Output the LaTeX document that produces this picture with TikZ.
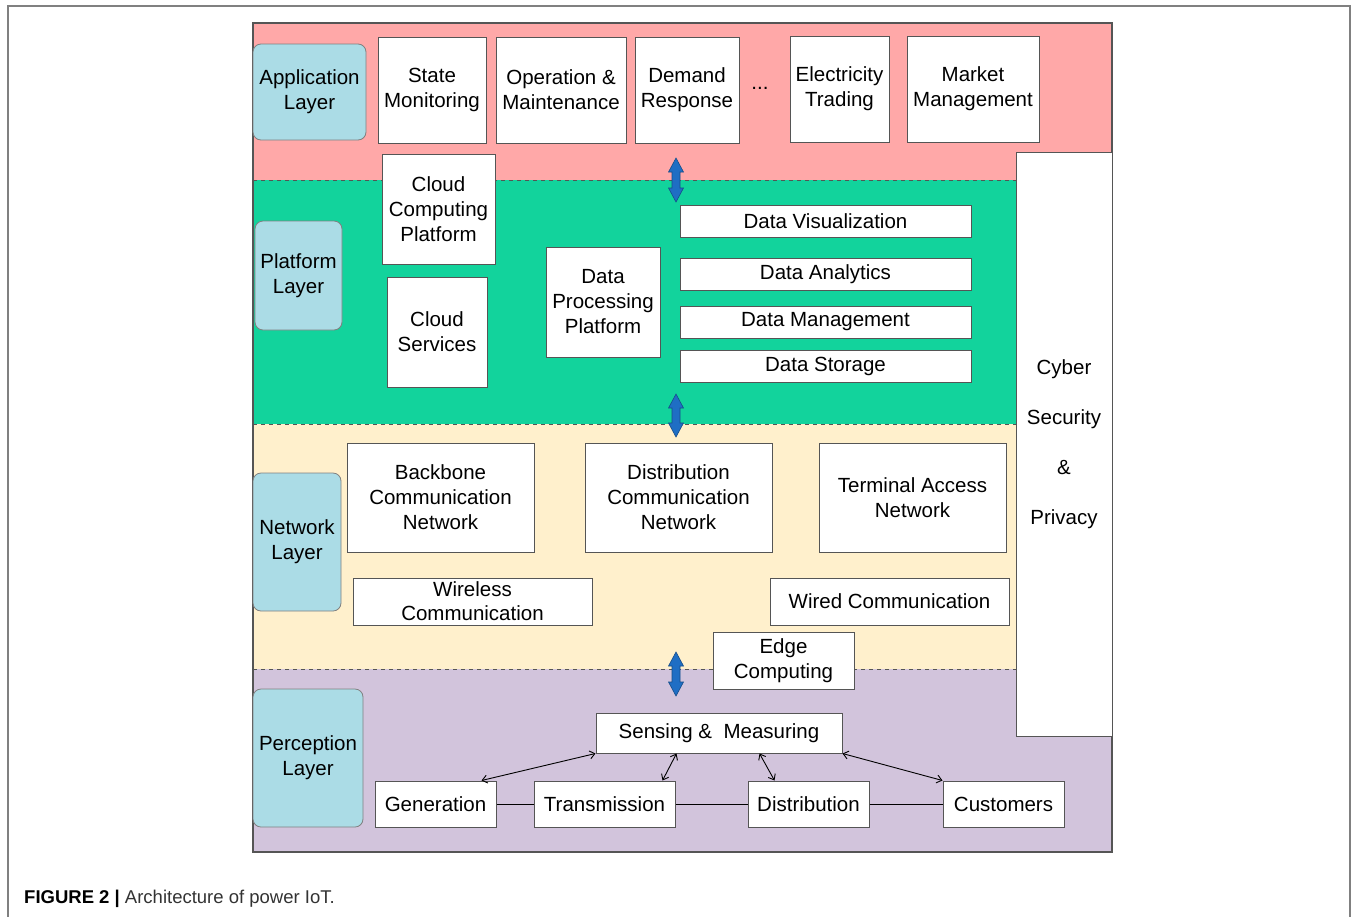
\documentclass[tikz,border=0pt]{standalone}
\usepackage{fontspec}
\setmainfont{Liberation Sans}
\usetikzlibrary{arrows.meta,calc}
\definecolor{apppink}{HTML}{FFA8A8}
\definecolor{platgreen}{HTML}{12D39C}
\definecolor{netcream}{HTML}{FFF0CC}
\definecolor{percpurple}{HTML}{D2C4DC}
\definecolor{lablue}{HTML}{ABDCE6}
\definecolor{arrblue}{HTML}{1F6EC4}
\definecolor{bordgray}{HTML}{555555}
\tikzset{
  every node/.style={font=\fontsize{20.5}{25}\selectfont, inner sep=0pt, align=center},
  wbox/.style={draw=bordgray, fill=white, line width=1pt},
  labbox/.style={draw=gray, fill=lablue, line width=0.8pt, rounded corners=8pt},
  layerline/.style={draw=bordgray, line width=1pt, dash pattern=on 4pt off 4pt},
  bigarrow/.style={draw=arrblue!70!black, fill=arrblue, line width=0.6pt},
  thinarrow/.style={draw=black, line width=0.9pt, {Straight Barb[length=5pt,width=8pt]}-{Straight Barb[length=5pt,width=8pt]}},
  plainline/.style={draw=black, line width=0.9pt}
}
\begin{document}
\begin{tikzpicture}[x=1pt,y=-1pt]
\useasboundingbox (0,0) rectangle (1354,916);
\fill[white] (0,0) rectangle (1354,916);
% outer frame
\draw[gray, line width=1.5pt] (8,920) -- (8,6) -- (1350,6) -- (1350,920);
% layers
\fill[apppink] (253,23) rectangle (1112,180);
\fill[platgreen] (253,180) rectangle (1016,424);
\fill[netcream] (253,424) rectangle (1016,669);
\fill[percpurple] (253,669) rectangle (1112,852);
\fill[platgreen] (1016,180) rectangle (1112,424);
\fill[netcream] (1016,424) rectangle (1112,669);
\draw[layerline] (253,180) -- (1016,180);
\draw[layerline] (253,424) -- (1016,424);
\draw[layerline] (253,669) -- (1016,669);
\draw[bordgray, line width=1.2pt] (253,23) rectangle (1112,852);
% cyber box
\node[wbox, minimum width=96pt, minimum height=584pt, font=\fontsize{20.5}{50}\selectfont] (cyber) at (1064,444) {Cyber\\Security\\\&\\Privacy};
% layer labels
\node[labbox, minimum width=113pt, minimum height=96pt] (applab) at (309.5,92) {Application\\Layer};
\node[labbox, minimum width=87pt, minimum height=109pt] (platlab) at (298.5,275.5) {Platform\\Layer};
\node[labbox, minimum width=88pt, minimum height=138pt] (netlab) at (297,542) {Network\\Layer};
\node[labbox, minimum width=110pt, minimum height=138pt] (perclab) at (308,758) {Perception\\Layer};
% application layer
\node[wbox, minimum width=108pt, minimum height=106pt] (sm) at (432,90) {State\\Monitoring};
\node[wbox, minimum width=130pt, minimum height=106pt] (om) at (561,90) {Operation \&\\Maintenance};
\node[wbox, minimum width=104pt, minimum height=106pt] (dr) at (687,90) {Demand\\Response};
\node (dots) at (760,88) {...};
\node[wbox, minimum width=99pt, minimum height=106pt] (et) at (839.5,89) {Electricity\\Trading};
\node[wbox, minimum width=132pt, minimum height=106pt] (mm) at (973,89) {Market\\Management};
% platform layer
\node[wbox, minimum width=113pt, minimum height=110pt] (ccp) at (438.5,209) {Cloud\\Computing\\Platform};
\node[wbox, minimum width=100pt, minimum height=110pt] (cs) at (437,332) {Cloud\\Services};
\node[wbox, minimum width=114pt, minimum height=110pt] (dpp) at (603,302) {Data\\Processing\\Platform};
\node[wbox, minimum width=291pt, minimum height=32pt] (dv) at (825.5,221) {Data Visualization};
\node[wbox, minimum width=291pt, minimum height=32pt] (da) at (825.5,274) {Data Analytics};
\node[wbox, minimum width=291pt, minimum height=32pt] (dm) at (825.5,322) {Data Management};
\node[wbox, minimum width=291pt, minimum height=32pt] (ds) at (825.5,366) {Data Storage};
% network layer
\node[wbox, minimum width=187pt, minimum height=109pt] (bcn) at (440.5,497.5) {Backbone\\Communication\\Network};
\node[wbox, minimum width=187pt, minimum height=109pt] (dcn) at (678.5,497.5) {Distribution\\Communication\\Network};
\node[wbox, minimum width=187pt, minimum height=109pt] (tan) at (912.5,497.5) {Terminal Access\\Network};
\node[wbox, minimum width=239pt, minimum height=47pt, font=\fontsize{20.5}{24}\selectfont] (wc) at (472.5,601.5) {Wireless\\Communication};
\node[wbox, minimum width=239pt, minimum height=47pt] (wdc) at (889.5,601.5) {Wired Communication};
\node[wbox, minimum width=141pt, minimum height=57pt] (ec) at (783.5,660.5) {Edge\\Computing};
% perception layer
\node[wbox, minimum width=246pt, minimum height=40pt] (sens) at (719,733) {Sensing \&\ \ Measuring};
\node[wbox, minimum width=121pt, minimum height=46pt] (gen) at (435.5,804) {Generation};
\node[wbox, minimum width=141pt, minimum height=46pt] (tra) at (604.5,804) {Transmission};
\node[wbox, minimum width=121pt, minimum height=46pt] (dis) at (808.5,804) {Distribution};
\node[wbox, minimum width=121pt, minimum height=46pt] (cus) at (1003.5,804) {Customers};
\draw[plainline] (gen) -- (tra);
\draw[plainline] (tra) -- (dis);
\draw[plainline] (dis) -- (cus);
\draw[thinarrow] (sens.south west) -- ($(gen.north east)+(-15,0)$);
\draw[thinarrow] ($(sens.south west)+(81,0)$) -- ($(tra.north east)+(-13,0)$);
\draw[thinarrow] ($(sens.south west)+(164,0)$) -- ($(dis.north west)+(27,0)$);
\draw[thinarrow] (sens.south east) -- (cus.north west);
% big blue arrows between layers
\coordinate (a1t) at (676,158); \coordinate (a1b) at (676,202);
\coordinate (a2t) at (676,394); \coordinate (a2b) at (676,437);
\coordinate (a3t) at (676,652); \coordinate (a3b) at (676,696);
\foreach \t/\b in {a1t/a1b,a2t/a2b,a3t/a3b}{
  \path[bigarrow] (\t) -- ++(7.5,14) -- ++(-3.5,0) |- ($(\b)+(4,-14)$) -- ++(3.5,0) -- (\b) -- ++(-7.5,-14) -- ++(3.5,0) |- ($(\t)+(-4,14)$) -- ++(-3.5,0) -- cycle;
}
% caption
\node[anchor=west, font=\fontsize{18.5}{22}\selectfont] (cap) at (24,898.5) {\textbf{FIGURE 2 |} \textcolor{black!80}{Architecture of power IoT.}};
\end{tikzpicture}
\end{document}
